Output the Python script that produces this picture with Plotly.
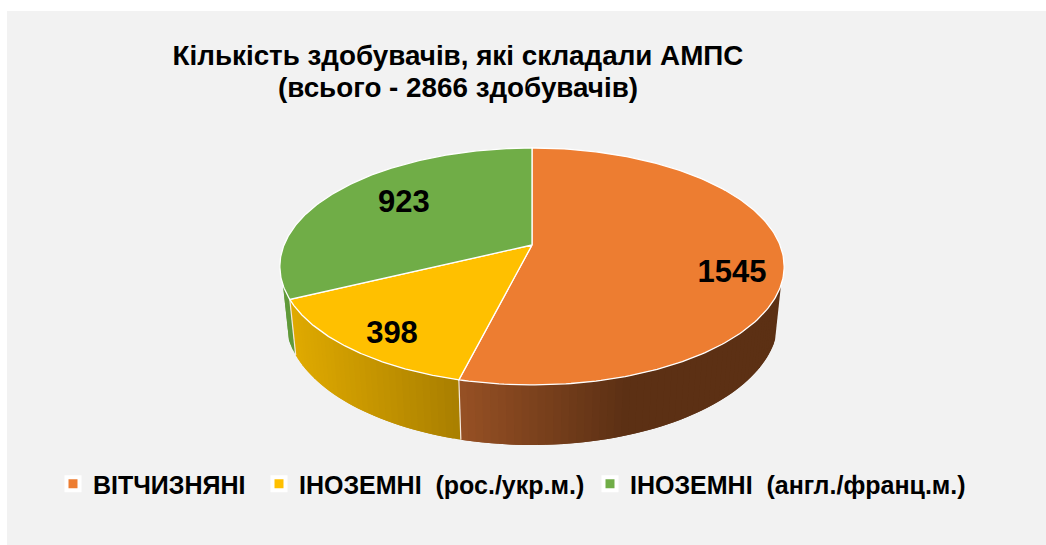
import numpy as np
import plotly.graph_objects as go

# --- data ---
categories = ["ВІТЧИЗНЯНІ", "ІНОЗЕМНІ  (рос./укр.м.)", "ІНОЗЕМНІ  (англ./франц.м.)"]
values = [1545, 398, 923]
title_lines = ["Кількість здобувачів, які складали АМПС", "(всього - 2866 здобувачів)"]

# --- style ---
top_colors = ["#ED7D31", "#FFC000", "#70AD47"]
wall_left = [(150, 80, 36), (224, 170, 0), (96, 154, 58)]
wall_right = [(92, 48, 20), (168, 126, 0), (96, 154, 58)]
wall_span = [(461, 625), (290, 461), (280, 296)]
label_pos = [0.5536, 0.433, 0.523]   # fraction of slice angle
label_rad = [0.808, 0.8466, 0.6716]
legend_xy = [(61, 461), (267, 461), (598, 461)]

# projection of the tilted disc
CX, Y0, R, B, P, H, Q = 532, 245, 248, 114.6, 0.181, 53.8, 0.023
SIL = np.degrees(np.arccos(-0.33))  # silhouette angle from 12 o'clock
ML, MR, MT, MB = 7, 0, 11, 0


def proj(a_deg, r=1.0, z=0.0):
    a = np.radians(a_deg)
    u, v = r * np.sin(a), r * np.cos(a)
    d = 1 + P * v + Q * z
    return CX + R * u / d, Y0 + (-B * v + H * z) / d


total = sum(values)
edges = np.concatenate([[0], np.cumsum(values)]) / total * 360

fig = go.Figure()


def poly(xs, ys, fill, line=None, width=1):
    fig.add_trace(go.Scatter(x=xs, y=ys, mode="lines", fill="toself", fillcolor=fill,
                             line=dict(color=line or fill, width=width),
                             hoverinfo="skip", showlegend=False))


# side wall, in overlapping strips (each one is partly covered by the next)
for i in [2, 0, 1]:
    a0, a1 = max(edges[i], SIL), min(edges[i + 1], 360 - SIL)
    if a1 <= a0:
        continue
    n = max(2, int((a1 - a0) / 1.5))
    grid = np.linspace(a0, a1, n + 1)
    step = grid[1] - grid[0]
    xl, xr = wall_span[i]
    for k, (g0, g1) in enumerate(zip(grid[:-1], grid[1:])):
        end = min(g1 + step, a1)
        aa = np.linspace(g0, end, 4)
        tx, ty = proj(aa)
        bx, by = proj(aa, z=1)
        t = np.clip((proj(g0 + step / 2)[0] - xl) / (xr - xl), 0, 1)
        c = tuple(int(round(l + (r - l) * t)) for l, r in zip(wall_left[i], wall_right[i]))
        fill = f"rgb{c}"
        fig.add_trace(go.Scatter(x=np.r_[tx, bx[::-1], tx[0]], y=np.r_[ty, by[::-1], ty[0]],
                                 mode="lines", fill="toself", fillcolor=fill,
                                 line=dict(width=0), hoverinfo="skip", showlegend=False))

# white wall separators
for e in edges[1:3]:
    ex, ey = proj(np.array([e, e]), z=np.array([0, 1]))
    fig.add_trace(go.Scatter(x=ex, y=ey, mode="lines", line=dict(color="#F4E9DF", width=1.2),
                             hoverinfo="skip", showlegend=False))

# top faces
for i in range(3):
    aa = np.linspace(edges[i], edges[i + 1], 200)
    x, y = proj(aa)
    poly(np.r_[CX, x, CX], np.r_[Y0, y, Y0], top_colors[i], line="#FFFFFF", width=1.3)

# data labels
lx, ly = [], []
for i in range(3):
    a = edges[i] + (edges[i + 1] - edges[i]) * label_pos[i]
    x, y = proj(a, r=label_rad[i])
    lx.append(float(x)); ly.append(float(y))
fig.add_trace(go.Scatter(x=lx, y=ly, mode="text", text=[str(v) for v in values],
                         textfont=dict(family="Liberation Sans", size=31, color="#000000", weight="bold"),
                         hoverinfo="skip", showlegend=False))

# legend entries
legends = {}
for i, name in enumerate(categories):
    key = "legend" if i == 0 else f"legend{i + 1}"
    fig.add_trace(go.Scatter(x=[None], y=[None], mode="markers", name=name,
                             marker=dict(symbol="square", size=13, color=top_colors[i],
                                         line=dict(color="#FFFFFF", width=4)),
                             legend=key, showlegend=True))
    legends[key] = dict(x=(legend_xy[i][0] - ML) / (1046 - ML - MR),
                        y=1 - (legend_xy[i][1] - MT) / (545 - MT - MB),
                        xanchor="left", yanchor="top", bgcolor="rgba(0,0,0,0)",
                        itemwidth=30, tracegroupgap=0, indentation=-8,
                        font=dict(family="Liberation Sans", size=25, color="#000000", weight="bold"))

TITLE_FONT = dict(family="Liberation Sans", size=27.8, color="#000000", weight="bold")
fig.update_layout(
    width=1046, height=545, autosize=False,
    margin=dict(l=ML, r=MR, t=MT, b=MB),
    paper_bgcolor="#FFFFFF", plot_bgcolor="#F2F2F2",
    title=dict(text=title_lines[0], x=458 / 1046, xanchor="center",
               y=1 - 55 / 545, yanchor="middle", font=TITLE_FONT),
    annotations=[dict(text=title_lines[1], x=458, y=87, xref="x", yref="y",
                      showarrow=False, xanchor="center", yanchor="middle", font=TITLE_FONT)],
    xaxis=dict(range=[ML, 1046 - MR], visible=False, fixedrange=True),
    yaxis=dict(range=[545 - MB, MT], visible=False, fixedrange=True),
    **legends,
)
fig.write_html("out.html", config={"displayModeBar": False},
               post_script="document.body.style.margin='0';")
